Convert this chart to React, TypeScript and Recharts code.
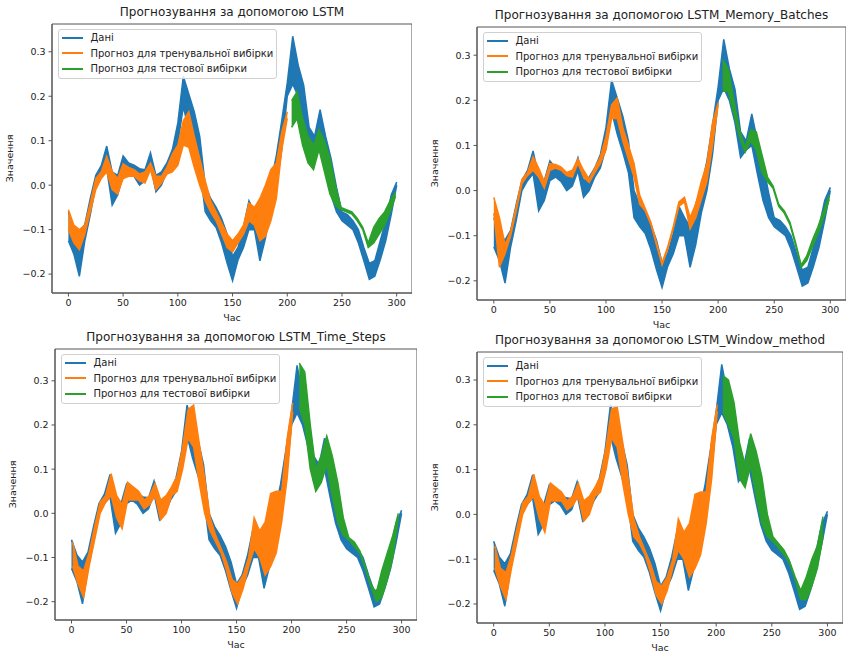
import { ComposedChart, Area, XAxis, YAxis, ReferenceArea } from "recharts"

const FONT = "'DejaVu Sans', sans-serif"
const xTicks = [0, 50, 100, 150, 200, 250, 300]
const yTicks = [-0.2, -0.1, 0.0, 0.1, 0.2, 0.3]
const seriesNames = ["Дані", "Прогноз для тренувальної вибірки", "Прогноз для тестової вибірки"]
const seriesColors = ["#1f77b4", "#ff7f0e", "#2ca02c"]

// every series oscillates fast, so it is kept as a low/high envelope sampled every 5 steps
const step = 5

const dataStart = 0
const dataLow = [
  -0.125, -0.155, -0.205, -0.125, -0.066, 0.0, 0.022, 0.037, -0.045, -0.022,
  0.022, 0.03, 0.02, 0.0, 0.01, 0.044, -0.015, 0.0, 0.03, 0.05,
  0.095, 0.176, 0.125, 0.085, 0.04, -0.06, -0.08, -0.095, -0.13, -0.175,
  -0.215, -0.168, -0.14, -0.1, -0.1, -0.17, -0.12, -0.05, 0.0, 0.08,
  0.2, 0.227, 0.2, 0.15, 0.073, 0.09, 0.1, 0.037, -0.022, -0.06,
  -0.08, -0.09, -0.1, -0.13, -0.17, -0.212, -0.205, -0.168, -0.125, -0.066,
  0.0,
]
const dataHigh = [
  -0.06, -0.095, -0.11, -0.088, -0.03, 0.022, 0.044, 0.088, 0.03, 0.022,
  0.066, 0.05, 0.045, 0.037, 0.035, 0.073, 0.022, 0.03, 0.05, 0.08,
  0.14, 0.245, 0.205, 0.165, 0.11, 0.0, -0.03, -0.05, -0.075, -0.11,
  -0.16, -0.14, -0.095, -0.035, -0.06, -0.08, -0.03, 0.007, 0.066, 0.146,
  0.23, 0.335, 0.27, 0.225, 0.13, 0.11, 0.17, 0.11, 0.06, -0.005,
  -0.06, -0.066, -0.08, -0.1, -0.14, -0.176, -0.17, -0.125, -0.08, -0.022,
  0.007,
]

// LSTM
const lstmTrainStart = 0
const lstmTrainLow = [
  -0.1, -0.13, -0.145, -0.11, -0.06, -0.01, 0.015, 0.03, -0.01, -0.02,
  0.015, 0.02, 0.02, 0.01, 0.005, 0.035, -0.01, 0.005, 0.025, 0.03,
  0.045, 0.09, 0.085, 0.04, 0.0, -0.035, -0.06, -0.08, -0.11, -0.14,
  -0.15, -0.13, -0.11, -0.08, -0.09, -0.125, -0.115, -0.08, -0.03, 0.08,
  0.15,
]
const lstmTrainHigh = [
  -0.055, -0.09, -0.1, -0.09, -0.04, 0.015, 0.03, 0.065, 0.03, 0.015,
  0.048, 0.04, 0.035, 0.025, 0.03, 0.05, 0.02, 0.02, 0.04, 0.07,
  0.09, 0.145, 0.165, 0.11, 0.06, 0.01, -0.035, -0.06, -0.085, -0.11,
  -0.125, -0.11, -0.09, -0.04, -0.05, -0.03, 0.0, 0.035, 0.05, 0.12,
  0.165,
]
const lstmTestStart = 204
const lstmTestLow = [
  0.13, 0.15, 0.09, 0.05, 0.035, 0.08, 0.03, -0.02, -0.045, -0.055,
  -0.06, -0.065, -0.08, -0.1, -0.14, -0.13, -0.11, -0.09, -0.06, -0.025,
]
const lstmTestHigh = [
  0.19, 0.21, 0.15, 0.11, 0.09, 0.125, 0.1, 0.06, 0.0, -0.05,
  -0.055, -0.06, -0.075, -0.095, -0.13, -0.095, -0.075, -0.06, -0.035, -0.015,
]

// LSTM_Memory_Batches
const memoryTrainStart = 0
const memoryTrainLow = [
  -0.05, -0.17, -0.14, -0.1, -0.045, 0.015, 0.033, 0.045, 0.03, 0.005,
  0.045, 0.05, 0.045, 0.033, 0.03, 0.06, 0.03, 0.018, 0.04, 0.06,
  0.09, 0.16, 0.16, 0.11, 0.07, 0.03, -0.03, -0.045, -0.075, -0.12,
  -0.165, -0.13, -0.085, -0.035, -0.025, -0.085, -0.06, -0.02, 0.02, 0.1,
  0.19,
]
const memoryTrainHigh = [
  -0.015, -0.06, -0.12, -0.09, -0.035, 0.025, 0.04, 0.075, 0.05, 0.02,
  0.06, 0.058, 0.052, 0.04, 0.045, 0.07, 0.045, 0.025, 0.05, 0.075,
  0.12, 0.19, 0.205, 0.14, 0.1, 0.06, -0.01, -0.04, -0.07, -0.115,
  -0.16, -0.125, -0.08, -0.025, -0.015, -0.06, -0.03, 0.02, 0.06, 0.15,
  0.195,
]
const memoryTestStart = 204
const memoryTestLow = [
  0.22, 0.22, 0.17, 0.12, 0.085, 0.11, 0.09, 0.04, 0.02, 0.005,
  -0.035, -0.05, -0.075, -0.12, -0.17, -0.155, -0.125, -0.095, -0.06, -0.02,
]
const memoryTestHigh = [
  0.29, 0.27, 0.2, 0.135, 0.095, 0.135, 0.13, 0.08, 0.03, 0.01,
  -0.03, -0.045, -0.07, -0.115, -0.165, -0.145, -0.11, -0.08, -0.045, -0.01,
]

// LSTM_Time_Steps
const stepsTrainStart = 1
const stepsTrainLow = [
  -0.12, -0.16, -0.19, -0.12, -0.06, 0.0, 0.025, 0.04, -0.01, -0.035,
  0.03, 0.03, 0.03, 0.01, 0.02, 0.04, -0.015, 0.0, 0.04, 0.05,
  0.1, 0.17, 0.15, 0.07, 0.0, -0.04, -0.065, -0.09, -0.13, -0.18,
  -0.205, -0.17, -0.12, -0.08, -0.1, -0.14, -0.12, -0.09, -0.02, 0.08,
  0.23,
]
const stepsTrainHigh = [
  -0.065, -0.12, -0.13, -0.09, -0.03, 0.025, 0.04, 0.09, 0.04, 0.02,
  0.07, 0.06, 0.05, 0.03, 0.04, 0.068, 0.03, 0.04, 0.06, 0.085,
  0.15, 0.235, 0.245, 0.16, 0.08, -0.01, -0.05, -0.08, -0.11, -0.15,
  -0.16, -0.14, -0.1, -0.01, -0.04, -0.02, 0.045, 0.05, 0.05, 0.17,
  0.25,
]
const stepsTestStart = 207
const stepsTestLow = [
  0.24, 0.2, 0.1, 0.05, 0.07, 0.11, 0.04, -0.02, -0.05, -0.06,
  -0.075, -0.09, -0.125, -0.165, -0.2, -0.19, -0.15, -0.1, -0.01,
]
const stepsTestHigh = [
  0.34, 0.32, 0.2, 0.1, 0.13, 0.175, 0.13, 0.07, -0.01, -0.055,
  -0.065, -0.085, -0.12, -0.16, -0.18, -0.13, -0.09, -0.05, 0.0,
]

// LSTM_Window_method
const windowTrainStart = 1
const windowTrainLow = [
  -0.12, -0.16, -0.19, -0.12, -0.06, 0.0, 0.025, 0.04, -0.01, -0.04,
  0.03, 0.03, 0.03, 0.01, 0.02, 0.04, -0.015, 0.0, 0.04, 0.05,
  0.1, 0.17, 0.15, 0.07, 0.0, -0.05, -0.065, -0.09, -0.13, -0.18,
  -0.2, -0.17, -0.12, -0.08, -0.1, -0.14, -0.12, -0.09, -0.02, 0.08,
  0.23,
]
const windowTrainHigh = [
  -0.07, -0.12, -0.13, -0.09, -0.03, 0.025, 0.04, 0.09, 0.04, 0.02,
  0.07, 0.06, 0.05, 0.03, 0.04, 0.07, 0.03, 0.04, 0.06, 0.085,
  0.15, 0.235, 0.24, 0.16, 0.08, -0.01, -0.05, -0.08, -0.11, -0.15,
  -0.16, -0.14, -0.1, -0.01, -0.04, -0.02, 0.045, 0.05, 0.05, 0.17,
  0.245,
]
const windowTestStart = 206
const windowTestLow = [
  0.23, 0.2, 0.17, 0.08, 0.06, 0.11, 0.04, -0.02, -0.05, -0.06,
  -0.075, -0.09, -0.11, -0.145, -0.19, -0.19, -0.16, -0.12, -0.05,
]
const windowTestHigh = [
  0.31, 0.3, 0.25, 0.16, 0.11, 0.18, 0.14, 0.085, 0.0, -0.05,
  -0.065, -0.08, -0.105, -0.14, -0.17, -0.14, -0.1, -0.07, -0.005,
]

type Band = { start: number; low: number[]; high: number[] }

const toPoints = ({ start, low, high }: Band) =>
  low.map((lo, i) => ({ x: start + i * step, range: [lo, high[i]] }))

const fmtTick = (v: number) => (v < 0 ? "\u2212" : "") + Math.abs(v).toFixed(1)

type Frame = { left: number; top: number; right: number; bottom: number }

const Y_AXIS_W = 52
const TOP_PAD = 24
const X_AXIS_H = 35

function Panel({ title, frame, yDomain, train, test }: {
  title: string
  frame: Frame
  yDomain: [number, number]
  train: Band
  test: Band
}) {
  const left = frame.left - Y_AXIS_W
  const top = frame.top - TOP_PAD
  const width = frame.right - left
  const height = frame.bottom - top + X_AXIS_H
  const tick = { fill: "#222", fontSize: 9.5, fontFamily: FONT }
  const bands = [{ start: dataStart, low: dataLow, high: dataHigh }, train, test]

  return (
    <div style={{ position: "absolute", left, top, width, height }}>
      <div
        style={{
          position: "absolute", left: Y_AXIS_W, top: TOP_PAD - 19, width: width - Y_AXIS_W,
          textAlign: "center", fontFamily: FONT, fontSize: 12, lineHeight: "14px", color: "#222",
        }}
      >
        {title}
      </div>
      <ComposedChart width={width} height={height} margin={{ top: TOP_PAD, right: 0, bottom: 0, left: 0 }}>
        <XAxis
          type="number" dataKey="x" domain={[-15, 314]} ticks={xTicks} interval={0} allowDataOverflow
          height={X_AXIS_H} tickSize={3.5} tickMargin={3} stroke="#555" tick={tick}
          label={{ value: "Час", position: "insideBottom", offset: 7, fill: "#222", fontSize: 9.5, fontFamily: FONT }}
        />
        <YAxis
          type="number" domain={yDomain} ticks={yTicks} interval={0} allowDataOverflow
          width={Y_AXIS_W} tickSize={3.5} tickMargin={3} stroke="#555" tick={tick} tickFormatter={fmtTick}
          label={{
            value: "Значення", angle: -90, position: "insideLeft", offset: 10,
            style: { textAnchor: "middle" }, fill: "#222", fontSize: 9.5, fontFamily: FONT,
          }}
        />
        <ReferenceArea x1={-15} x2={314} y1={yDomain[0]} y2={yDomain[1]} fill="none" stroke="#555" strokeWidth={1} />
        {bands.map((band, i) => (
          <Area
            key={i} data={toPoints(band)} dataKey="range" type="linear" dot={false} activeDot={false}
            stroke={seriesColors[i]} strokeWidth={1.5} fill={seriesColors[i]} fillOpacity={1}
            isAnimationActive={false}
          />
        ))}
      </ComposedChart>
      <div
        style={{
          position: "absolute", left: Y_AXIS_W + 5.5, top: TOP_PAD + 5,
          background: "rgba(255,255,255,0.8)", border: "1px solid #d0d0d0", borderRadius: 3,
          padding: "0 3px 1px 3px", fontFamily: FONT, fontSize: 10, color: "#222",
        }}
      >
        {seriesNames.map((name, i) => (
          <div key={name} style={{ display: "flex", alignItems: "center", height: 15.5 }}>
            <span style={{ width: 21, height: 2, background: seriesColors[i], marginRight: 8 }} />
            <span style={{ whiteSpace: "nowrap" }}>{name}</span>
          </div>
        ))}
      </div>
    </div>
  )
}

export default function App() {
  return (
    <div style={{ position: "absolute", left: 0, top: 0, width: 847, height: 655, overflow: "hidden", background: "#fff" }}>
      <Panel
        title="Прогнозування за допомогою LSTM"
        frame={{ left: 52, top: 24, right: 412, bottom: 293 }}
        yDomain={[-0.2425, 0.3625]}
        train={{ start: lstmTrainStart, low: lstmTrainLow, high: lstmTrainHigh }}
        test={{ start: lstmTestStart, low: lstmTestLow, high: lstmTestHigh }}
      />
      <Panel
        title="Прогнозування за допомогою LSTM_Memory_Batches"
        frame={{ left: 477, top: 27, right: 846, bottom: 300 }}
        yDomain={[-0.2425, 0.3625]}
        train={{ start: memoryTrainStart, low: memoryTrainLow, high: memoryTrainHigh }}
        test={{ start: memoryTestStart, low: memoryTestLow, high: memoryTestHigh }}
      />
      <Panel
        title="Прогнозування за допомогою LSTM_Time_Steps"
        frame={{ left: 55, top: 349, right: 417, bottom: 620 }}
        yDomain={[-0.2415, 0.372]}
        train={{ start: stepsTrainStart, low: stepsTrainLow, high: stepsTrainHigh }}
        test={{ start: stepsTestStart, low: stepsTestLow, high: stepsTestHigh }}
      />
      <Panel
        title="Прогнозування за допомогою LSTM_Window_method"
        frame={{ left: 477, top: 352, right: 843, bottom: 623 }}
        yDomain={[-0.2425, 0.3625]}
        train={{ start: windowTrainStart, low: windowTrainLow, high: windowTrainHigh }}
        test={{ start: windowTestStart, low: windowTestLow, high: windowTestHigh }}
      />
    </div>
  )
}
